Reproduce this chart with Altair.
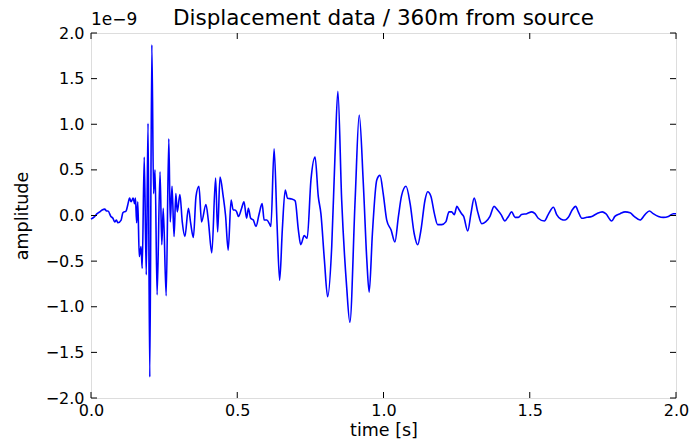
import altair as alt
import pandas as pd

# time [s]
time_s = [0.000, 0.013, 0.021, 0.030, 0.038, 0.047, 0.053, 0.058, 0.068, 0.075,
          0.081, 0.087, 0.092, 0.103, 0.109, 0.120, 0.126, 0.132, 0.137, 0.144,
          0.149, 0.152, 0.156, 0.160, 0.165, 0.171, 0.175, 0.182, 0.189, 0.195,
          0.201, 0.208, 0.214, 0.219, 0.226, 0.236, 0.242, 0.247, 0.257, 0.266,
          0.271, 0.277, 0.284, 0.290, 0.295, 0.304, 0.312, 0.321, 0.333, 0.341,
          0.350, 0.359, 0.369, 0.378, 0.393, 0.401, 0.413, 0.426, 0.433, 0.441,
          0.452, 0.460, 0.469, 0.479, 0.486, 0.492, 0.498, 0.504, 0.515, 0.523,
          0.532, 0.538, 0.546, 0.555, 0.564, 0.575, 0.585, 0.592, 0.601, 0.610,
          0.615, 0.626, 0.636, 0.645, 0.654, 0.664, 0.672, 0.686, 0.698, 0.709,
          0.717, 0.729, 0.739, 0.752, 0.766, 0.777, 0.786, 0.798, 0.809, 0.823,
          0.834, 0.844, 0.857, 0.874, 0.885, 0.903, 0.917, 0.931, 0.943, 0.951,
          0.962, 0.977, 0.988, 0.999, 1.011, 1.026, 1.039, 1.051, 1.062, 1.077,
          1.091, 1.105, 1.117, 1.128, 1.142, 1.151, 1.162, 1.174, 1.185, 1.199,
          1.213, 1.224, 1.233, 1.242, 1.251, 1.259, 1.267, 1.274, 1.288, 1.299,
          1.310, 1.322, 1.336, 1.349, 1.364, 1.378, 1.390, 1.402, 1.415, 1.427,
          1.438, 1.450, 1.461, 1.472, 1.490, 1.507, 1.518, 1.529, 1.550, 1.563,
          1.581, 1.592, 1.607, 1.621, 1.632, 1.645, 1.657, 1.666, 1.678, 1.695,
          1.712, 1.729, 1.748, 1.760, 1.780, 1.791, 1.809, 1.826, 1.843, 1.857,
          1.877, 1.894, 1.909, 1.922, 1.940, 1.957, 1.974, 1.991, 2.000]

# amplitude in units of 1e-9
amplitude = [-0.04, -0.01, 0.02, 0.04, 0.06, 0.07, 0.05, 0.05, -0.01, -0.03,
             -0.07, -0.05, -0.08, -0.05, 0.03, 0.05, 0.12, 0.19, 0.15, 0.19,
             0.13, 0.19, -0.08, 0.15, -0.45, -0.34, -0.58, 0.64, -0.65, 1.01,
             -1.77, 1.87, 0.24, 0.50, -0.87, 0.48, -0.32, 0.08, -0.88, 0.84,
             -0.07, 0.32, -0.23, 0.24, 0.04, 0.23, -0.07, -0.23, 0.08, -0.09,
             -0.24, 0.21, 0.32, -0.07, 0.12, -0.05, -0.41, 0.41, -0.18, 0.42,
             0.21, 0.00, -0.38, 0.17, 0.06, 0.06, 0.04, -0.01, 0.08, 0.15,
             -0.03, 0.08, -0.03, -0.05, -0.12, 0.02, 0.13, -0.05, -0.05, -0.09,
             -0.12, 0.73, -0.09, -0.71, -0.16, 0.28, 0.19, 0.18, 0.16, -0.16,
             -0.32, -0.22, -0.25, 0.39, 0.64, 0.21, 0.02, -0.49, -0.89, -0.34,
             0.64, 1.36, 0.17, -0.78, -1.17, 0.17, 1.10, 0.35, -0.49, -0.84,
             -0.20, 0.39, 0.44, 0.24, -0.05, -0.16, -0.29, -0.01, 0.22, 0.32,
             0.13, -0.20, -0.32, -0.16, 0.17, 0.26, 0.21, 0.02, -0.10, -0.10,
             -0.07, 0.04, 0.04, 0.01, 0.10, 0.06, 0.02, -0.01, -0.17, 0.02,
             0.19, 0.04, -0.09, -0.07, -0.01, 0.10, 0.06, 0.01, -0.06, -0.01,
             0.04, -0.02, -0.02, 0.01, 0.02, 0.04, 0.02, -0.03, -0.06, 0.01,
             0.09, 0.01, -0.04, -0.05, -0.02, 0.06, 0.10, 0.04, -0.03, -0.02,
             -0.01, 0.02, 0.04, 0.02, -0.06, -0.01, 0.02, 0.04, 0.03, -0.01,
             -0.05, 0.01, 0.05, 0.02, -0.01, -0.02, -0.01, 0.02, 0.02]

x_ticks = [0.0, 0.5, 1.0, 1.5, 2.0]
y_ticks = [-2.0, -1.5, -1.0, -0.5, 0.0, 0.5, 1.0, 1.5, 2.0]

title_text = "Displacement data / 360m from source"
offset_label = "1e\u22129"

assert len(time_s) == len(amplitude)

W, H = 585, 365
FONT = "DejaVu Sans"
TICK_LEN = 6

df = pd.DataFrame({"t": time_s, "a": amplitude})
xt = pd.DataFrame({"t": x_ticks})
yt = pd.DataFrame({"a": y_ticks})

xscale = alt.Scale(domain=[0, 2], nice=False, zero=False)
yscale = alt.Scale(domain=[-2, 2], nice=False, zero=False)

xaxis = alt.Axis(values=x_ticks, format=".1f", title="time [s]", ticks=False,
                 domain=False, grid=False, labelPadding=4, labelFlush=False,
                 labelOverlap=False, labelFontSize=16, labelColor="black",
                 labelFont=FONT, titleFont=FONT, titleFontSize=17.5,
                 titleFontWeight="normal", titleColor="black",
                 titleY=32, titleBaseline="middle")
yaxis = alt.Axis(values=y_ticks, format=".1f", title="amplitude", ticks=False,
                 domain=False, grid=False, labelPadding=7, labelFlush=False,
                 labelOverlap=False, labelFontSize=16, labelColor="black",
                 labelFont=FONT, titleFont=FONT, titleFontSize=17.5,
                 titleFontWeight="normal", titleColor="black",
                 titleX=-69, titleY=H / 2, titleAngle=-90,
                 titleBaseline="middle", titleAlign="center")

line = alt.Chart(df).mark_line(color="#0000ff", strokeWidth=1.6, interpolate="monotone").encode(
    x=alt.X("t:Q", scale=xscale, axis=xaxis),
    y=alt.Y("a:Q", scale=yscale, axis=yaxis),
)

tick_color = "black"
bottom_ticks = alt.Chart(xt).mark_rule(color=tick_color, strokeWidth=1).encode(
    x=alt.X("t:Q", scale=xscale, axis=xaxis), y=alt.value(H), y2=alt.value(H - TICK_LEN))
top_ticks = alt.Chart(xt).mark_rule(color=tick_color, strokeWidth=1).encode(
    x=alt.X("t:Q", scale=xscale, axis=xaxis), y=alt.value(0), y2=alt.value(TICK_LEN))
left_ticks = alt.Chart(yt).mark_rule(color=tick_color, strokeWidth=1).encode(
    y=alt.Y("a:Q", scale=yscale, axis=yaxis), x=alt.value(0), x2=alt.value(TICK_LEN))
right_ticks = alt.Chart(yt).mark_rule(color=tick_color, strokeWidth=1).encode(
    y=alt.Y("a:Q", scale=yscale, axis=yaxis), x=alt.value(W - TICK_LEN), x2=alt.value(W))

offset_text = alt.Chart(pd.DataFrame({"s": [offset_label]})).mark_text(
    align="left", baseline="alphabetic", font=FONT, fontSize=17, color="black"
).encode(text="s:N", x=alt.value(0), y=alt.value(-8))

title_mark = alt.Chart(pd.DataFrame({"s": [title_text]})).mark_text(
    align="center", baseline="alphabetic", font=FONT, fontSize=21.5, color="black"
).encode(text="s:N", x=alt.value(W / 2), y=alt.value(-8))

chart = alt.layer(line, bottom_ticks, top_ticks, left_ticks, right_ticks,
                  offset_text, title_mark).properties(
    width=W, height=H,
    autosize=alt.AutoSizeParams(type="none"),
    padding={"left": 91, "top": 33, "right": 20, "bottom": 43},
).configure_view(stroke="black", strokeWidth=1).configure(background="white")

chart.save("out.html", embed_options={"renderer": "svg", "actions": False})
